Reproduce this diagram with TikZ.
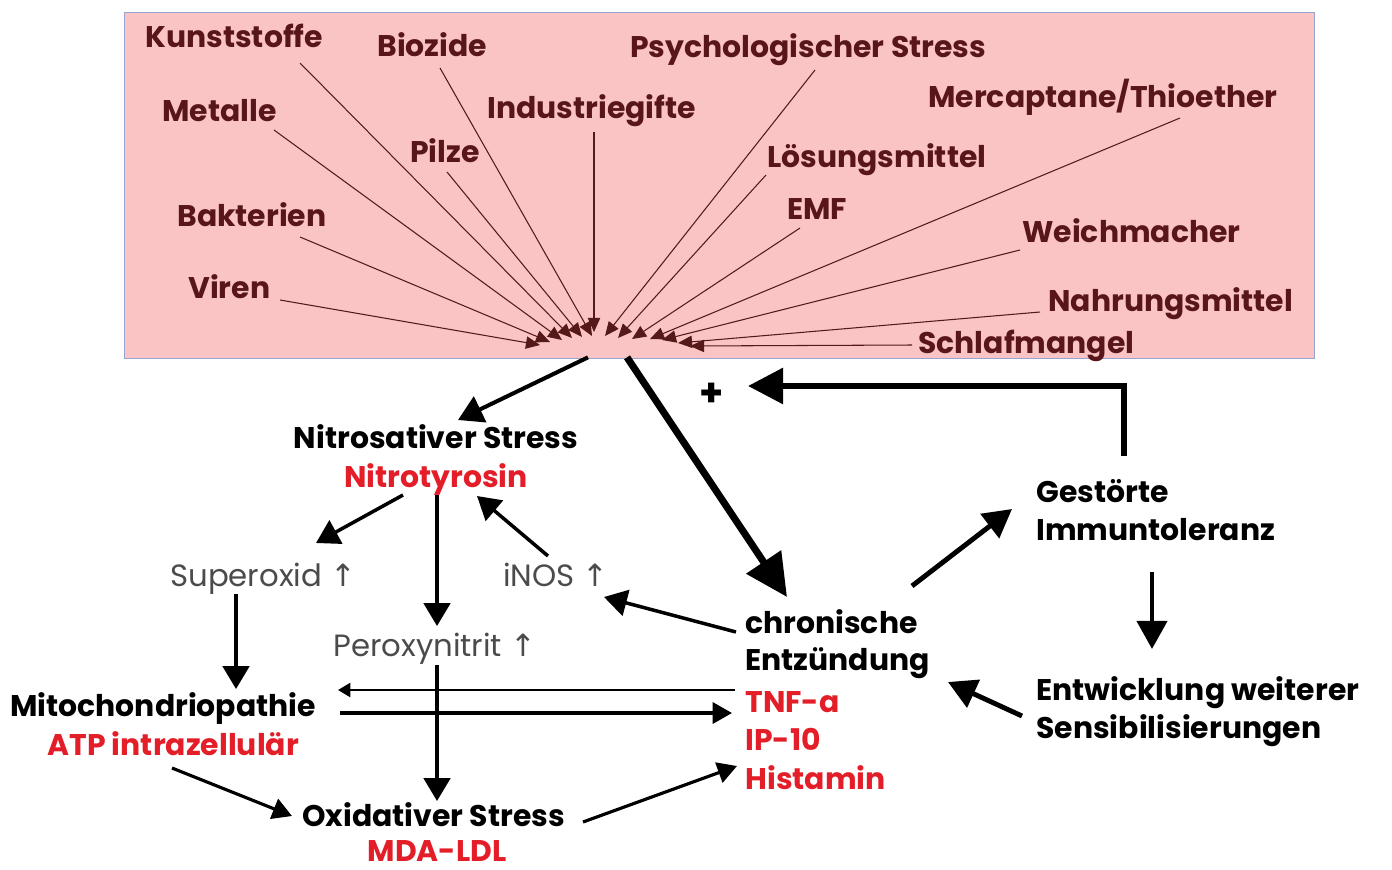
\documentclass[tikz,border=0pt]{standalone}
\usepackage{fontspec}
\setmainfont{Poppins}
\newfontfamily\symfont{DejaVu Sans}
\usetikzlibrary{arrows.meta}
\definecolor{boxfill}{RGB}{250,196,196}
\definecolor{boxedge}{RGB}{150,165,205}
\definecolor{labcol}{RGB}{88,22,26}
\definecolor{spokecol}{RGB}{85,25,25}
\definecolor{redtext}{RGB}{228,30,40}
\definecolor{graytext}{RGB}{75,75,75}
\newcommand{\fsz}{\fontsize{17}{19}\selectfont}
\newcommand{\gsz}{\fontsize{17.5}{19}\selectfont}
\begin{document}
\begin{tikzpicture}[x=0.02cm,y=-0.02cm,
  lab/.style={anchor=base west,inner sep=0pt,font=\bfseries\fsz,text=labcol},
  blk/.style={anchor=base west,inner sep=0pt,font=\bfseries\fsz,text=black},
  rtx/.style={anchor=base west,inner sep=0pt,font=\bfseries\fsz,text=redtext},
  gtx/.style={anchor=base west,inner sep=0pt,font=\gsz,text=graytext},
  spk/.style={draw=spokecol,line width=0.6pt,-{Triangle[length=8pt,width=7pt]}},
  arrA/.style={draw=black,line width=2.3pt,-{Triangle[length=14pt,width=16pt]}},
  arrBig/.style={draw=black,line width=4pt,-{Triangle[length=24pt,width=23pt]}},
  arrFb/.style={draw=black,line width=3.4pt,-{Triangle[length=20pt,width=20pt]}},
  arrM/.style={draw=black,line width=2pt,-{Triangle[length=13pt,width=15pt]}},
  arrThin/.style={draw=black,line width=1.2pt,-{Triangle[length=7pt,width=8pt]}},
  arrS/.style={draw=black,line width=1.8pt,-{Triangle[length=11pt,width=12pt]}},
  arrT/.style={draw=black,line width=2.8pt,-{Triangle[length=16pt,width=17pt]}}
]
\useasboundingbox (0,0) rectangle (1392,869);
\fill[white] (0,0) rectangle (1392,869);
% source box
\node[draw=boxedge,fill=boxfill,line width=0.8pt,inner sep=0pt,anchor=north west,
      minimum width=23.8cm,minimum height=6.92cm] (box) at (124,12) {};
% labels in box
\node[lab] (kunst) at (145,47) {Kunststoffe};
\node[lab] (bioz) at (377,56) {Biozide};
\node[lab] (psych) at (630,57) {Psychologischer Stress};
\node[lab] (metal) at (162,121) {Metalle};
\node[lab] (indu) at (487,118) {Industriegifte};
\node[lab] (merc) at (928,107) {Mercaptane/Thioether};
\node[lab] (pilz) at (410,162) {Pilze};
\node[lab] (loes) at (767,167) {Lösungsmittel};
\node[lab] (bakt) at (177,226) {Bakterien};
\node[lab] (emf) at (787,219) {EMF};
\node[lab] (weich) at (1022,242) {Weichmacher};
\node[lab] (viren) at (188,298) {Viren};
\node[lab] (nahr) at (1048,311) {Nahrungsmittel};
\node[lab] (schlaf) at (918,353) {Schlafmangel};
% hub points
\coordinate (hViren) at (540,345);
\coordinate (hBakt) at (550,342);
\coordinate (hMetal) at (562,340);
\coordinate (hKunst) at (572,338);
\coordinate (hPilz) at (582,337);
\coordinate (hBioz) at (592,336);
\coordinate (hIndu) at (594,332);
\coordinate (hPsych) at (605,336);
\coordinate (hLoes) at (618,338);
\coordinate (hEmf) at (632,339);
\coordinate (hMerc) at (650,339);
\coordinate (hWeich) at (662,340);
\coordinate (hNahr) at (678,343);
\coordinate (hSchlaf) at (690,346);
% spokes
\draw[spk] ([shift={(155,16)}]kunst.base west) -- (hKunst);
\draw[spk] ([shift={(63,12)}]bioz.base west) -- (hBioz);
\draw[spk] ([shift={(185,13)}]psych.base west) -- (hPsych);
\draw[spk] ([shift={(112,9)}]metal.base west) -- (hMetal);
\draw[spk] ([shift={(107,14)}]indu.base west) -- (hIndu);
\draw[spk] ([shift={(252,11)}]merc.base west) -- (hMerc);
\draw[spk] ([shift={(37,10)}]pilz.base west) -- (hPilz);
\draw[spk] ([shift={(-1,8)}]loes.base west) -- (hLoes);
\draw[spk] ([shift={(123,11)}]bakt.base west) -- (hBakt);
\draw[spk] ([shift={(13,9)}]emf.base west) -- (hEmf);
\draw[spk] ([shift={(-2,8)}]weich.base west) -- (hWeich);
\draw[spk] ([shift={(92,2)}]viren.base west) -- (hViren);
\draw[spk] ([shift={(-8,1)}]nahr.base west) -- (hNahr);
\draw[spk] ([shift={(-6,-8)}]schlaf.base west) -- (hSchlaf);
% lower nodes
\node[blk,anchor=base] (nst) at (436,448) {Nitrosativer Stress};
\node[rtx,anchor=base] (ntyr) at (436,487) {Nitrotyrosin};
\node[gtx] (sup) at (170,586) {Superoxid {\symfont ↑}};
\node[gtx] (inos) at (503,586) {iNOS {\symfont ↑}};
\node[gtx] (perox) at (333,656) {Peroxynitrit {\symfont ↑}};
\node[blk] (mito) at (10,716) {Mitochondriopathie};
\node[rtx] (atp) at (47,755) {ATP intrazellulär};
\node[blk] (oxs) at (302,826) {Oxidativer Stress};
\node[rtx,anchor=base] (mda) at (437,861) {MDA-LDL};
\node[blk] (chr) at (745,633) {chronische};
\node[blk] (ent) at (745,670) {Entzündung};
\node[rtx] (tnf) at (745,712) {TNF-a};
\node[rtx] (ip) at (745,750) {IP-10};
\node[rtx] (his) at (745,789) {Histamin};
\node[blk] (ges) at (1036,502) {Gestörte};
\node[blk] (imm) at (1036,540) {Immuntoleranz};
\node[blk] (entw) at (1036,700) {Entwicklung weiterer};
\node[blk] (sens) at (1036,738) {Sensibilisierungen};
\node[blk,anchor=center,font=\bfseries\fontsize{22}{24}\selectfont] (plus) at (712,395) {+};
% connectors
\draw[arrA] ([shift={(464,-2)}]box.south west) -- ([shift={(22,-28)}]nst.base);
\draw[arrBig] ([shift={(503,-2)}]box.south west) -- ([shift={(42,-36)}]chr.base west);
\draw[arrFb] ([shift={(88,-46)}]ges.base west) |- ([shift={(36,-9)}]plus.center);
\draw[arrM] ([shift={(-33,8)}]ntyr.base) -- ([shift={(146,-43)}]sup.base west);
\draw[arrM] ([shift={(1,8)}]ntyr.base) -- ([shift={(104,-30)}]perox.base west);
\draw[arrM] ([shift={(45,-30)}]inos.base west) -- ([shift={(41,9)}]ntyr.base);
\draw[arrM] ([shift={(66,8)}]sup.base west) -- ([shift={(226,-27)}]mito.base west);
\draw[arrM] ([shift={(-9,-1)}]chr.base west) -- ([shift={(101,11)}]inos.base west);
\draw[arrThin] ([shift={(-10,-22)}]tnf.base west) -- ([shift={(328,-26)}]mito.base west);
\draw[arrS] ([shift={(330,-3)}]mito.base west) -- ([shift={(-13,1)}]tnf.base west);
\draw[arrM] ([shift={(104,9)}]perox.base west) -- ([shift={(135,-25)}]oxs.base west);
\draw[arrS] ([shift={(125,13)}]atp.base west) -- ([shift={(-10,-10)}]oxs.base west);
\draw[arrS] ([shift={(281,-4)}]oxs.base west) -- ([shift={(-8,-23)}]his.base west);
\draw[arrT] ([shift={(167,-47)}]chr.base west) -- ([shift={(-24,7)}]ges.base west);
\draw[arrT] ([shift={(116,32)}]imm.base west) -- ([shift={(116,-51)}]entw.base west);
\draw[arrT] ([shift={(-14,16)}]entw.base west) -- ([shift={(203,12)}]ent.base west);
\end{tikzpicture}
\end{document}
